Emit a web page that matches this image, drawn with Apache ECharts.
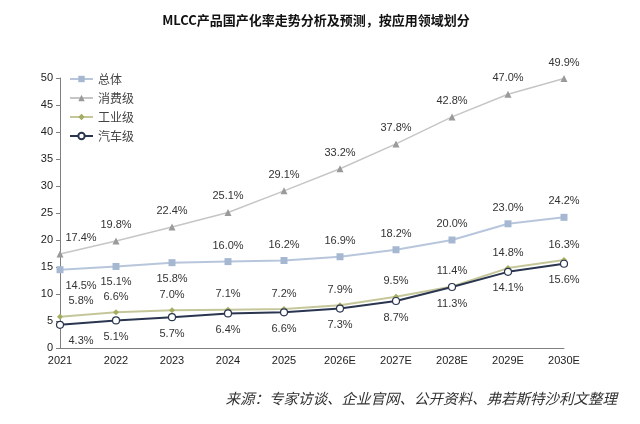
<!DOCTYPE html>
<html>
<head>
<meta charset="utf-8">
<script src="https://cdn.jsdelivr.net/npm/echarts@6/dist/echarts.min.js"></script>
<style>
  html, body { margin: 0; padding: 0; background: #fff; }
  #main { width: 640px; height: 424px; }
</style>
</head>
<body>
<div id="main"></div>
<script>
// 年份 + 各领域国产化率(%)
const years = ['2021', '2022', '2023', '2024', '2025', '2026E', '2027E', '2028E', '2029E', '2030E'];
const total = [14.5, 15.1, 15.8, 16.0, 16.2, 16.9, 18.2, 20.0, 23.0, 24.2];
const consumer = [17.4, 19.8, 22.4, 25.1, 29.1, 33.2, 37.8, 42.8, 47.0, 49.9];
const industrial = [5.8, 6.6, 7.0, 7.1, 7.2, 7.9, 9.5, 11.4, 14.8, 16.3];
const auto = [4.3, 5.1, 5.7, 6.4, 6.6, 7.3, 8.7, 11.3, 14.1, 15.6];
const yTicks = [0, 5, 10, 15, 20, 25, 30, 35, 40, 45, 50];

const labelFont = { fontFamily: 'Liberation Sans', fontSize: 11, color: '#333' };

// 第一个点的标签往右挪一点，别压在轴上
function withLabels(arr, posFn) {
  return arr.map((v, i) => ({
    value: v,
    label: {
      position: posFn(i),
      offset: i === 0 ? [21, 0] : [0, 0]
    }
  }));
}

function mkSeries(name, arr, opt, posFn) {
  return Object.assign({
    name: name,
    type: 'line',
    data: withLabels(arr, posFn),
    symbolSize: 6,
    label: Object.assign({ show: true, distance: 7, formatter: p => p.value.toFixed(1) + '%' }, labelFont),
    emphasis: { disabled: true },
    z: 2
  }, opt);
}

const chart = echarts.init(document.getElementById('main'));
chart.setOption({
  animation: false,
  title: [{
    text: 'MLCC产品国产化率走势分析及预测，按应用领域划分',
    left: 311, top: 9, textAlign: 'center',
    textStyle: { fontFamily: 'Noto Sans CJK SC', fontSize: 13, fontWeight: 'bold', color: '#111' }
  }, {
    text: '来源：专家访谈、企业官网、公开资料、弗若斯特沙利文整理',
    right: 18, top: 386,
    textStyle: { fontFamily: 'Noto Sans CJK SC', fontSize: 14.5, fontStyle: 'italic', fontWeight: 'normal', color: '#333' }
  }],
  legend: {
    orient: 'vertical',
    left: 64, top: 68,
    itemWidth: 23, itemHeight: 8, itemGap: 7,
    textStyle: { fontFamily: 'Noto Sans CJK SC', fontSize: 12, color: '#444' },
    data: ['总体', '消费级', '工业级', '汽车级']
  },
  grid: { left: 60, right: 76, top: 78, bottom: 76, containLabel: false },
  xAxis: {
    type: 'category',
    data: years,
    boundaryGap: false,
    axisLine: { lineStyle: { color: '#808080', width: 1 } },
    axisTick: { show: false },
    axisLabel: { fontFamily: 'Liberation Sans', fontSize: 11, color: '#222', margin: 7 }
  },
  yAxis: {
    type: 'value',
    min: yTicks[0], max: yTicks[yTicks.length - 1], interval: 5,
    axisLine: { show: true, lineStyle: { color: '#808080', width: 1 } },
    axisTick: { show: true, length: 4, lineStyle: { color: '#808080' } },
    splitLine: { show: false },
    axisLabel: { fontFamily: 'Liberation Sans', fontSize: 11, color: '#222', margin: 7 }
  },
  series: [
    mkSeries('总体', total, {
      symbol: 'rect', symbolSize: 7,
      lineStyle: { color: '#b8c6dc', width: 2 },
      itemStyle: { color: '#a6b8d1' }
    }, i => (i < 3 ? 'bottom' : 'top')),
    mkSeries('消费级', consumer, {
      symbol: 'triangle', symbolSize: 7,
      lineStyle: { color: '#c6c6c6', width: 1.5 },
      itemStyle: { color: '#9a9a9a' }
    }, () => 'top'),
    mkSeries('工业级', industrial, {
      symbol: 'diamond', symbolSize: 6,
      lineStyle: { color: '#c5c79a', width: 2 },
      itemStyle: { color: '#a4ad62' }
    }, () => 'top'),
    mkSeries('汽车级', auto, {
      symbol: 'circle', symbolSize: 7,
      lineStyle: { color: '#2a3550', width: 2 },
      itemStyle: { color: '#fff', borderColor: '#2a3550', borderWidth: 1.2 },
      z: 3
    }, () => 'bottom')
  ]
});
</script>
</body>
</html>
